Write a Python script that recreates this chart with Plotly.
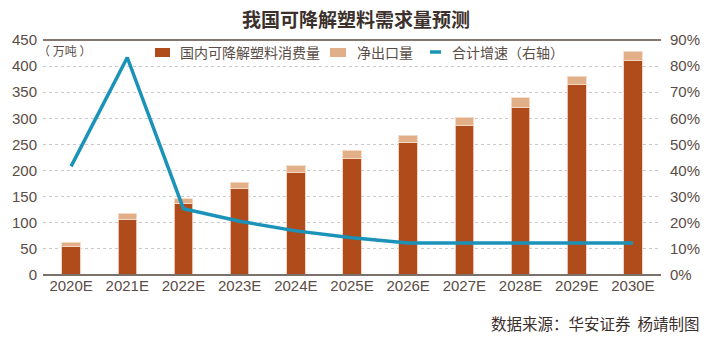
import plotly.graph_objects as go

# ---- data ----
categories = ["2020E", "2021E", "2022E", "2023E", "2024E", "2025E",
              "2026E", "2027E", "2028E", "2029E", "2030E"]
domestic = [55, 107, 137, 166, 196, 224, 253, 286, 321, 364, 410]
net_export = [8, 11, 9, 12, 13, 15, 15, 16, 18, 17, 18]
growth = [41.6, 83.3, 25.4, 20.6, 16.9, 14.3, 12.3, 12.3, 12.3, 12.3, 12.3]
left_ticks = [0, 50, 100, 150, 200, 250, 300, 350, 400, 450]
right_ticks = [0, 10, 20, 30, 40, 50, 60, 70, 80, 90]
right_labels = ["0%", "10%", "20%", "30%", "40%", "50%", "60%", "70%", "80%", "90%"]
names = ["国内可降解塑料消费量", "净出口量", "合计增速（右轴）"]
title = "我国可降解塑料需求量预测"
unit = "（ 万吨 ）"
source = "数据来源：华安证券  杨靖制图"

# ---- style ----
W, H = 712, 344
ML, MR, MT, MB = 43, 51, 40, 69
C_DARK = "#b04b1c"
C_LIGHT = "#e2b088"
C_LINE = "#1b93b9"
C_TEXT = "#5a4c46"
C_TITLE = "#3b302b"
CJK = "Noto Sans CJK SC"
NUM = "Liberation Sans, Arial, sans-serif"
NARROW = "Liberation Sans Narrow, Arial Narrow, Liberation Sans, sans-serif"

pw = W - ML - MR
ph = H - MT - MB


def px(x):
    return (x - ML) / pw


def py(y):
    return (H - MB - y) / ph


fig = go.Figure()
fig.add_trace(go.Bar(x=categories, y=domestic, name=names[0], marker_color=C_DARK,
                     marker_line=dict(color="rgba(245,205,185,0.9)", width=1),
                     width=0.33, showlegend=False))
fig.add_trace(go.Bar(x=categories, y=net_export, name=names[1], marker_color=C_LIGHT,
                     marker_line=dict(color="rgba(248,220,200,0.9)", width=1),
                     width=0.33, showlegend=False))
fig.add_trace(go.Scatter(x=categories, y=growth, name=names[2], yaxis="y2",
                         mode="lines", line=dict(color=C_LINE, width=3.5),
                         showlegend=False))

fig.update_layout(
    width=W, height=H,
    margin=dict(l=ML, r=MR, t=MT, b=MB, pad=0),
    paper_bgcolor="white", plot_bgcolor="white",
    barmode="stack",
    xaxis=dict(type="category", range=[-0.5, len(categories) - 0.5],
               showgrid=False, showline=False, zeroline=False, ticks="",
               tickfont=dict(family=NARROW, size=15, color=C_TEXT)),
    yaxis=dict(range=[0, 450], tickvals=left_ticks, showline=False, zeroline=False,
               showgrid=True, gridcolor="#c9c9c9", griddash="dot", gridwidth=1,
               ticks="", ticklabelstandoff=5,
               tickfont=dict(family=NUM, size=15, color=C_TEXT)),
    yaxis2=dict(range=[0, 90], tickvals=right_ticks, ticktext=right_labels,
                overlaying="y", side="right", showgrid=False, zeroline=False,
                showline=False, ticks="", ticklabelstandoff=8,
                tickfont=dict(family=NUM, size=15, color=C_TEXT)),
    showlegend=False,
)

# top and bottom border lines
fig.add_shape(type="line", xref="paper", yref="paper", x0=0, x1=1, y0=1, y1=1,
              line=dict(color="#5a4a42", width=1.5), layer="above")
fig.add_shape(type="line", xref="paper", yref="paper", x0=0, x1=1, y0=0, y1=0,
              line=dict(color="#7d716b", width=2), layer="above")

# title
fig.add_annotation(text=f"<b>{title}</b>", xref="paper", yref="paper",
                   x=px(356), y=py(18), xanchor="center", yanchor="middle",
                   showarrow=False, font=dict(family=CJK, size=19, color=C_TITLE))
# unit
fig.add_annotation(text=unit, xref="paper", yref="paper",
                   x=px(36), y=py(51), xanchor="left", yanchor="middle",
                   showarrow=False, font=dict(family=CJK, size=12, color=C_TEXT))
# source
fig.add_annotation(text=source, xref="paper", yref="paper",
                   x=px(701), y=py(323), xanchor="right", yanchor="middle",
                   showarrow=False, font=dict(family=CJK, size=15.5, color=C_TITLE))

# manual legend
LY = 52
fig.add_shape(type="rect", xref="paper", yref="paper", x0=px(155), x1=px(170),
              y0=py(57), y1=py(48), fillcolor=C_DARK, line=dict(width=0))
fig.add_annotation(text=names[0], xref="paper", yref="paper", x=px(178), y=py(LY),
                   xanchor="left", yanchor="middle", showarrow=False,
                   font=dict(family=CJK, size=14, color=C_TEXT))
fig.add_shape(type="rect", xref="paper", yref="paper", x0=px(330), x1=px(346),
              y0=py(57), y1=py(48), fillcolor=C_LIGHT, line=dict(width=0))
fig.add_annotation(text=names[1], xref="paper", yref="paper", x=px(355), y=py(LY),
                   xanchor="left", yanchor="middle", showarrow=False,
                   font=dict(family=CJK, size=14, color=C_TEXT))
fig.add_shape(type="line", xref="paper", yref="paper", x0=px(430), x1=px(441),
              y0=py(LY), y1=py(LY), line=dict(color=C_LINE, width=3.5))
fig.add_annotation(text=names[2], xref="paper", yref="paper", x=px(450), y=py(LY),
                   xanchor="left", yanchor="middle", showarrow=False,
                   font=dict(family=CJK, size=14, color=C_TEXT))

fig.write_html("out.html")
